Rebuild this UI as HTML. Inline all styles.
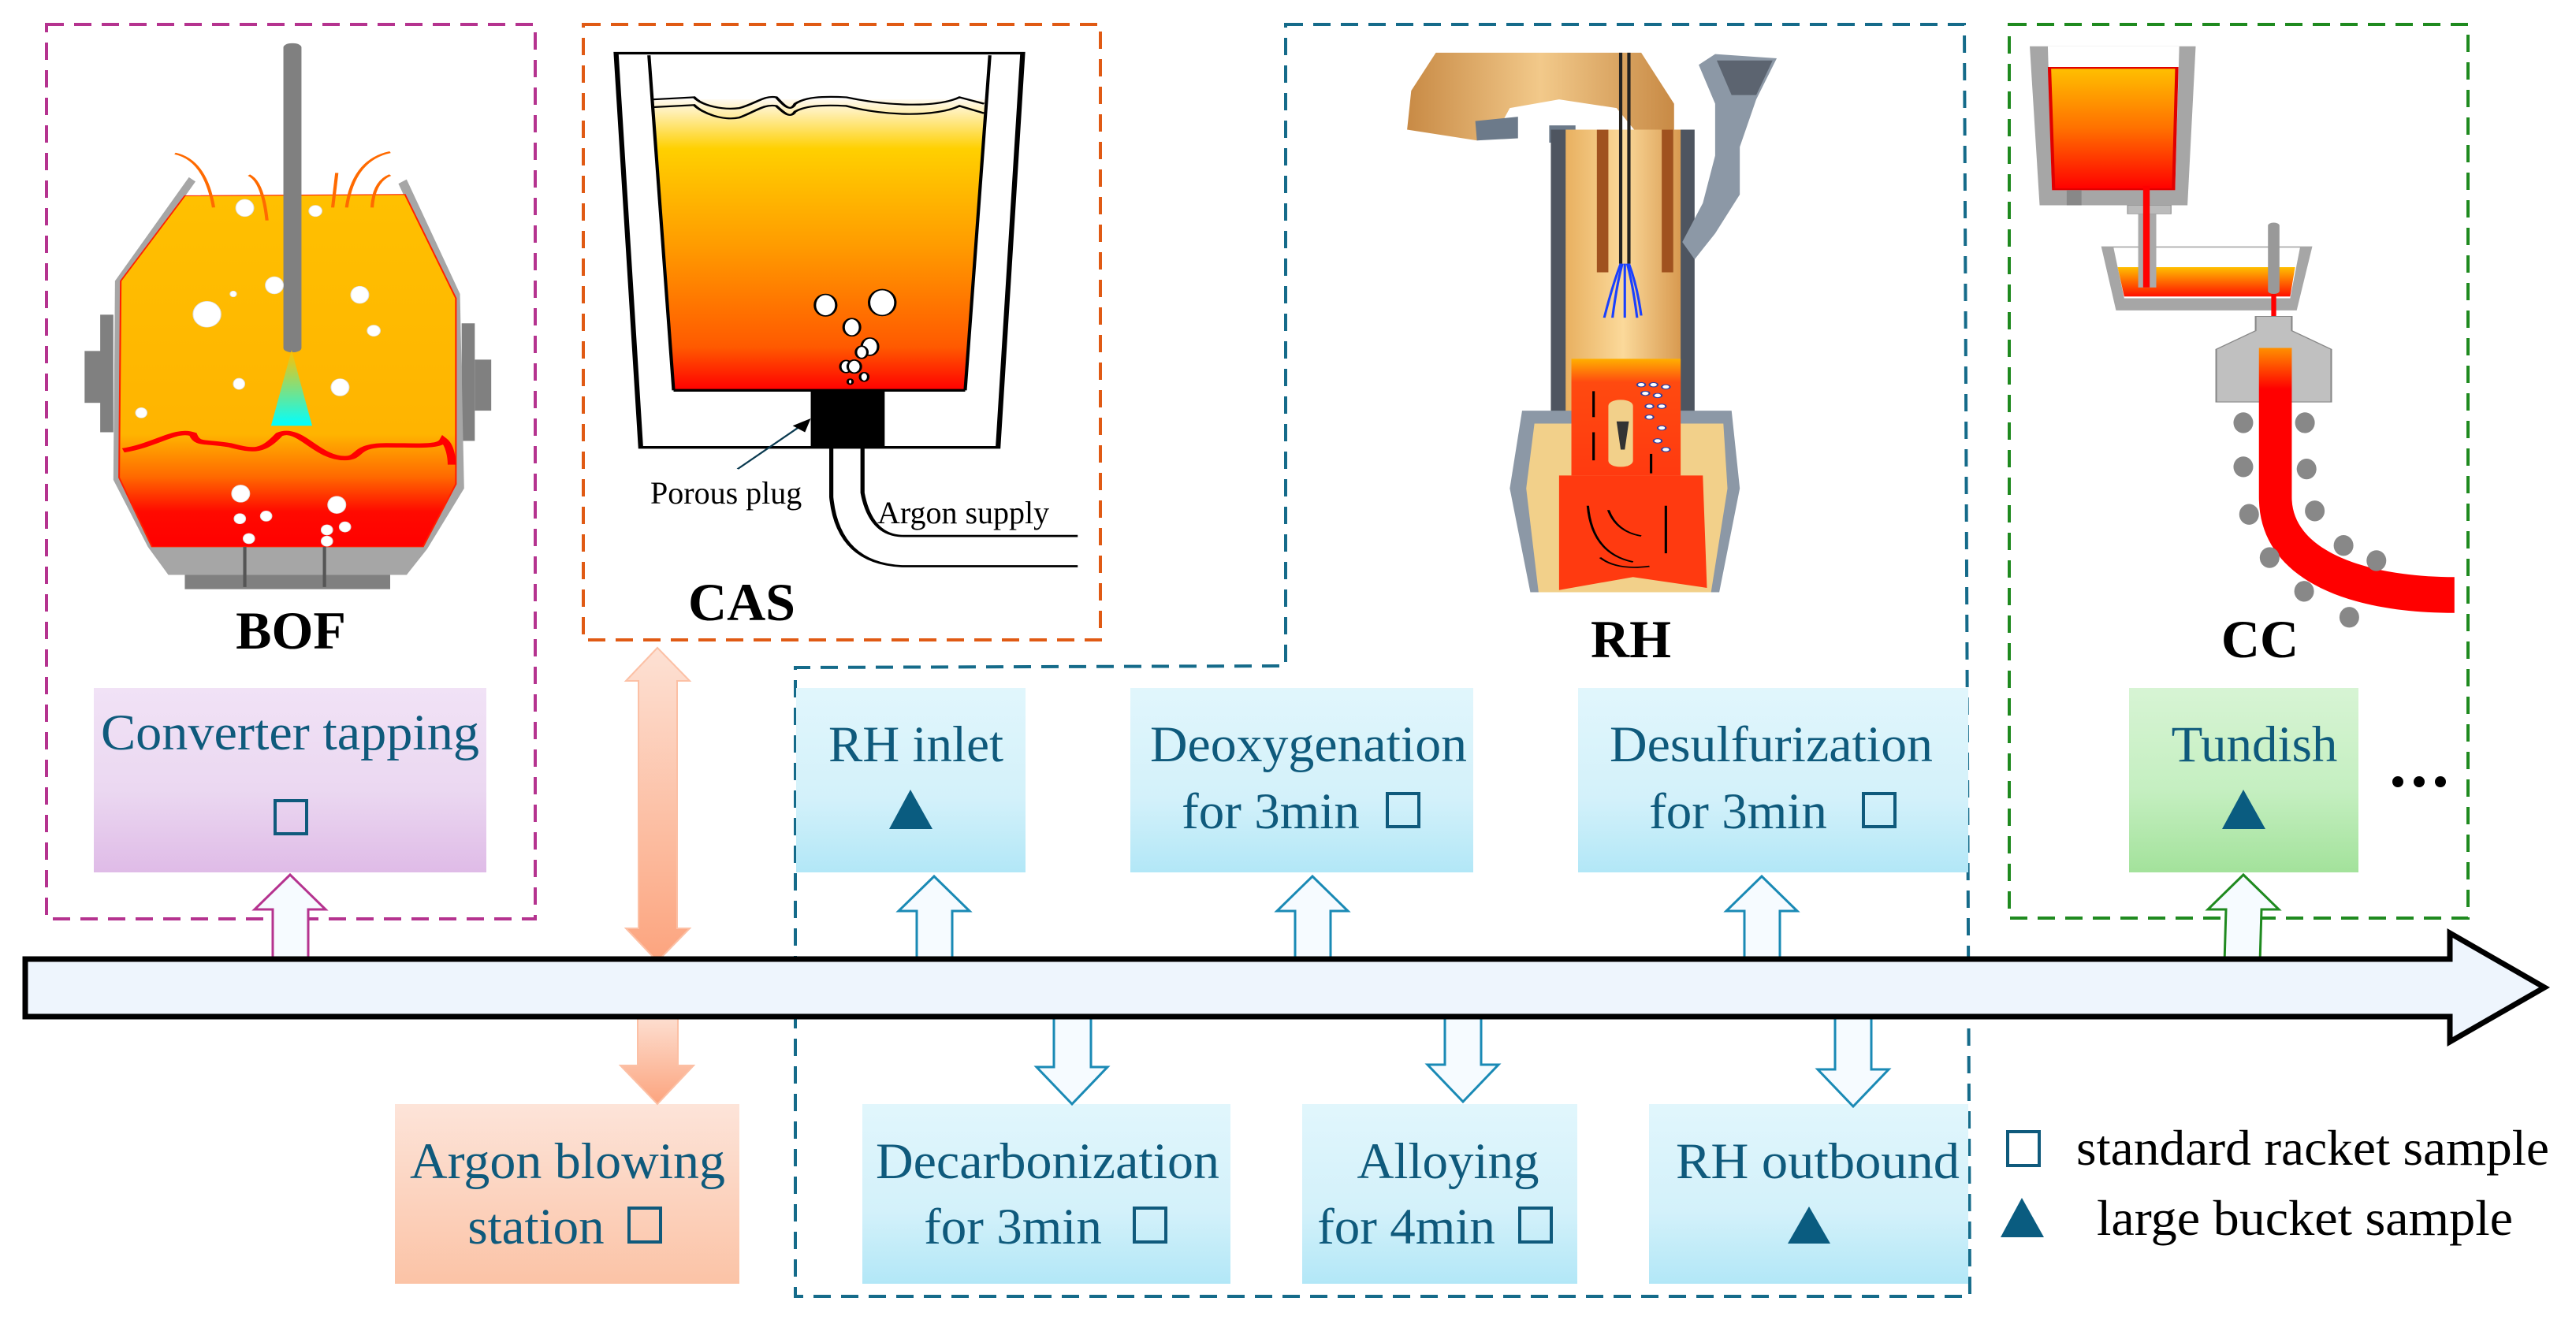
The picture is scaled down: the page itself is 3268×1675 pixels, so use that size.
<!DOCTYPE html>
<html><head><meta charset="utf-8"><style>
html,body{margin:0;padding:0;background:#fff;}
svg{display:block;}
text{font-family:"Liberation Serif",serif;}
</style></head><body>
<svg width="3268" height="1675" viewBox="0 0 3268 1675" xmlns="http://www.w3.org/2000/svg">
<defs>
<linearGradient id="gPur" x1="0" y1="0" x2="0" y2="1"><stop offset="0" stop-color="#f1e2f6"/><stop offset="0.55" stop-color="#ebd8f1"/><stop offset="1" stop-color="#dfbbe7"/></linearGradient>
<linearGradient id="gBlu" x1="0" y1="0" x2="0" y2="1"><stop offset="0" stop-color="#e1f6fc"/><stop offset="0.6" stop-color="#d3f1fa"/><stop offset="1" stop-color="#b2e7f7"/></linearGradient>
<linearGradient id="gGrn" x1="0" y1="0" x2="0" y2="1"><stop offset="0" stop-color="#d7f4d4"/><stop offset="0.55" stop-color="#c5efc1"/><stop offset="1" stop-color="#a3e29b"/></linearGradient>
<linearGradient id="gPch" x1="0" y1="0" x2="0" y2="1"><stop offset="0" stop-color="#fde4d9"/><stop offset="1" stop-color="#fbc3a6"/></linearGradient>
<linearGradient id="gArr" x1="0" y1="0" x2="0" y2="1"><stop offset="0" stop-color="#fde1d4"/><stop offset="1" stop-color="#fca47e"/></linearGradient>
<linearGradient id="gBOF" gradientUnits="userSpaceOnUse" x1="0" y1="450" x2="0" y2="1265"><stop offset="0" stop-color="#ffc000"/><stop offset="0.68" stop-color="#ffb400"/><stop offset="0.8" stop-color="#ff6a00"/><stop offset="0.9" stop-color="#ff0a00"/><stop offset="1" stop-color="#ff0000"/></linearGradient>
<linearGradient id="gJet" x1="0" y1="0" x2="0" y2="1"><stop offset="0" stop-color="#ffc000"/><stop offset="1" stop-color="#00ffff"/></linearGradient>
<linearGradient id="gCAS" gradientUnits="userSpaceOnUse" x1="0" y1="230" x2="0" y2="903"><stop offset="0" stop-color="#fffaf0"/><stop offset="0.17" stop-color="#ffd000"/><stop offset="0.5" stop-color="#ff9c00"/><stop offset="0.85" stop-color="#ff5a00"/><stop offset="1" stop-color="#ff0000"/></linearGradient>
<linearGradient id="gLad" gradientUnits="userSpaceOnUse" x1="0" y1="157" x2="0" y2="438"><stop offset="0" stop-color="#ffc000"/><stop offset="0.5" stop-color="#ff7000"/><stop offset="1" stop-color="#ff0000"/></linearGradient>
<linearGradient id="gTun" gradientUnits="userSpaceOnUse" x1="0" y1="618" x2="0" y2="686"><stop offset="0" stop-color="#ffc000"/><stop offset="1" stop-color="#ff1000"/></linearGradient>
<linearGradient id="gStr" gradientUnits="userSpaceOnUse" x1="0" y1="805" x2="0" y2="900"><stop offset="0" stop-color="#ff9000"/><stop offset="1" stop-color="#ff0000"/></linearGradient>
<linearGradient id="gTan" x1="0" y1="0" x2="1" y2="0"><stop offset="0" stop-color="#c88a45"/><stop offset="0.5" stop-color="#f2c98a"/><stop offset="1" stop-color="#c88a45"/></linearGradient>
<linearGradient id="gCol" x1="0" y1="0" x2="1" y2="0"><stop offset="0" stop-color="#e8b060"/><stop offset="0.5" stop-color="#fbd99a"/><stop offset="1" stop-color="#d89a50"/></linearGradient>
<linearGradient id="gRHred" x1="0" y1="0" x2="0" y2="1"><stop offset="0" stop-color="#ffb000"/><stop offset="0.2" stop-color="#ff4a10"/><stop offset="1" stop-color="#ff3a10"/></linearGradient>
</defs>

<rect x="59" y="31" width="620" height="1135" fill="none" stroke="#b5338f" stroke-width="4" stroke-dasharray="22,13"/>
<rect x="740" y="31" width="656" height="781" fill="none" stroke="#e05a14" stroke-width="4" stroke-dasharray="22,13"/>
<path d="M1631,31 L2492,31 L2499,1645 L1009,1645 L1009,847 L1631,845 Z" fill="none" stroke="#156b8a" stroke-width="4" stroke-dasharray="22,13"/>
<rect x="2549" y="31" width="582" height="1134" fill="none" stroke="#1f8a1f" stroke-width="4" stroke-dasharray="22,13"/>

<g transform="scale(1.0421,0.5485)">
<rect x="122" y="728" width="16" height="272" fill="#808080"/>
<rect x="103" y="812" width="20" height="120" fill="#808080"/>
<rect x="562" y="748" width="16" height="272" fill="#808080"/>
<rect x="578" y="832" width="20" height="118" fill="#808080"/>
<polygon points="230,410 140,650 138,1110 180,1265 205,1330 495,1330 520,1270 565,1130 560,680 495,415 485,425 550,690 550,1120 512,1262 188,1262 150,1105 150,655 238,420" fill="#a6a6a6"/>
<polygon points="180,1262 520,1262 495,1330 205,1330" fill="#a6a6a6"/>
<rect x="225" y="1330" width="250" height="33" fill="#808080"/>
<polygon points="225,453 493,450 555,690 555,1120 515,1265 185,1265 145,1105 147,650" fill="url(#gBOF)" stroke="#ff2000" stroke-width="2"/>
<line x1="298" y1="1265" x2="298" y2="1358" stroke="#555" stroke-width="4"/>
<line x1="395" y1="1265" x2="395" y2="1358" stroke="#555" stroke-width="4"/>
<path d="M150,1042 C190,1030 215,990 235,1005 C240,1030 250,1020 280,1030 C310,1045 320,1045 340,1005 C365,985 385,1060 420,1060 C440,1060 430,1030 470,1030 C510,1030 535,1035 540,1018 C548,1030 550,1060 550,1075" fill="none" stroke="#ff0000" stroke-width="10"/>
<rect x="345" y="100" width="22" height="715" rx="10" fill="#808080"/>
<polygon points="355,810 330,985 380,985" fill="url(#gJet)"/>
<g fill="#fff" stroke="#ddd" stroke-width="1">
<ellipse cx="298" cy="481" rx="11" ry="20"/><ellipse cx="384" cy="488" rx="8" ry="13"/>
<ellipse cx="334" cy="660" rx="11" ry="20"/><ellipse cx="284" cy="680" rx="4" ry="7"/>
<ellipse cx="252" cy="727" rx="17" ry="30"/><ellipse cx="438" cy="682" rx="11" ry="20"/>
<ellipse cx="455" cy="765" rx="8" ry="13"/><ellipse cx="291" cy="888" rx="7" ry="13"/>
<ellipse cx="414" cy="896" rx="11" ry="20"/><ellipse cx="172" cy="955" rx="7" ry="12"/>
<ellipse cx="293" cy="1142" rx="11" ry="20"/><ellipse cx="410" cy="1168" rx="11" ry="20"/>
<ellipse cx="292" cy="1200" rx="7" ry="12"/><ellipse cx="324" cy="1194" rx="7" ry="12"/>
<ellipse cx="420" cy="1219" rx="7" ry="12"/><ellipse cx="398" cy="1226" rx="7" ry="12"/>
<ellipse cx="303" cy="1246" rx="7" ry="12"/><ellipse cx="398" cy="1252" rx="7" ry="12"/>
</g>
<g fill="none" stroke="#ff6a00" stroke-width="4">
<path d="M213,355 Q250,370 260,480"/><path d="M303,405 Q320,420 325,510"/>
<path d="M410,400 L405,480"/><path d="M475,352 Q430,370 422,480"/><path d="M475,405 Q455,420 453,480"/>
</g>
</g>

<g transform="scale(1.0421,0.5485)">
<polygon points="750,123 1245,123 1215,1035 780,1035" fill="#fff" stroke="#000" stroke-width="6"/>
<polygon points="792,230 1200,230 1175,903 820,903" fill="url(#gCAS)"/>
<line x1="790" y1="128" x2="820" y2="903" stroke="#000" stroke-width="4"/>
<line x1="1205" y1="128" x2="1175" y2="903" stroke="#000" stroke-width="4"/>
<line x1="820" y1="903" x2="1175" y2="903" stroke="#000" stroke-width="6"/>
<path d="M795,230 L845,225 C855,245 880,255 900,250 C920,240 930,220 945,225 C955,245 962,260 968,240 C980,225 1000,222 1030,225 C1080,245 1140,250 1168,225 L1198,240" fill="none" stroke="#000" stroke-width="4"/>
<path d="M795,248 L845,243 C855,262 880,280 900,272 C920,258 930,240 945,245 C955,262 962,275 968,258 C980,245 1000,242 1030,245 C1080,270 1140,270 1168,245 L1198,262" fill="none" stroke="#000" stroke-width="4"/>
<rect x="987" y="903" width="90" height="130" fill="#000"/>
<path d="M1012,1035 L1012,1150 Q1020,1305 1100,1310 L1312,1310" fill="none" stroke="#000" stroke-width="5"/>
<path d="M1050,1035 L1050,1140 Q1060,1240 1100,1240 L1312,1240" fill="none" stroke="#000" stroke-width="5"/>
<line x1="898" y1="1085" x2="975" y2="985" stroke="#0a3a50" stroke-width="3"/>
<polygon points="987,968 980,1000 965,985" fill="#000"/>
<g fill="#fff" stroke="#000" stroke-width="3">
<ellipse cx="1005" cy="706" rx="13" ry="25"/><ellipse cx="1074" cy="700" rx="16" ry="30"/>
<ellipse cx="1037" cy="757" rx="10" ry="20"/><ellipse cx="1059" cy="802" rx="10" ry="20"/>
<ellipse cx="1049" cy="815" rx="7" ry="14"/><ellipse cx="1030" cy="848" rx="7" ry="14"/>
<ellipse cx="1040" cy="848" rx="8" ry="15"/><ellipse cx="1052" cy="872" rx="5" ry="10"/>
<ellipse cx="1035" cy="883" rx="3" ry="6"/>
</g>
</g>

<g transform="translate(1634,0) scale(1.0421,0.5485)">
<polygon points="180,122 430,122 470,240 470,330 430,320 400,250 330,230 270,250 250,320 230,325 145,300 150,210" fill="url(#gTan)"/>
<polygon points="228,280 280,270 280,320 230,325" fill="#6c7a8a"/>
<polygon points="318,290 350,290 350,330 318,330" fill="#6c7a8a"/>
<polygon points="320,300 495,300 495,1120 320,1120" fill="#4e5560"/>
<polygon points="338,300 478,300 478,1100 338,1100" fill="url(#gCol)"/>
<rect x="376" y="300" width="14" height="330" fill="#a0521f"/>
<rect x="455" y="300" width="14" height="330" fill="#a0521f"/>
<line x1="405" y1="122" x2="405" y2="610" stroke="#222" stroke-width="4"/>
<line x1="415" y1="122" x2="415" y2="610" stroke="#222" stroke-width="4"/>
<g stroke="#1a40ff" stroke-width="3" fill="none">
<path d="M405,610 Q395,660 385,735"/><path d="M407,610 Q400,660 395,735"/><path d="M410,610 L410,735"/>
<path d="M413,610 Q420,660 425,735"/><path d="M415,610 Q425,660 430,730"/>
</g>
<polygon points="500,150 520,125 595,135 570,230 550,340 550,450 520,540 495,600 480,560 505,470 520,360 520,240" fill="#8c98a6"/>
<polygon points="522,140 590,140 570,220 540,220" fill="#5c6470"/>
<polygon points="285,950 540,950 550,1130 525,1370 295,1370 270,1130" fill="#8c98a6"/>
<polygon points="300,980 530,980 535,1130 515,1370 305,1370 290,1130" fill="#f2d08a"/>
<polygon points="345,830 478,830 478,1100 345,1100" fill="url(#gRHred)"/>
<polygon points="330,1100 505,1100 510,1360 420,1335 330,1365" fill="#ff3a10"/>
<rect x="390" y="925" width="30" height="155" rx="14" fill="#f2d08a"/>
<polygon points="400,975 415,975 410,1040 405,1040" fill="#333"/>
<g fill="#fff" stroke="#3040a0" stroke-width="2">
<circle cx="430" cy="890" r="5"/><circle cx="445" cy="890" r="5"/><circle cx="460" cy="895" r="5"/>
<circle cx="435" cy="910" r="5"/><circle cx="450" cy="915" r="5"/><circle cx="440" cy="940" r="5"/>
<circle cx="455" cy="940" r="5"/><circle cx="440" cy="965" r="5"/><circle cx="455" cy="990" r="5"/>
<circle cx="450" cy="1020" r="5"/><circle cx="460" cy="1040" r="5"/>
</g>
<g stroke="#000" stroke-width="3" fill="none">
<path d="M372,905 L372,965"/><path d="M372,1000 L372,1065"/><path d="M442,1095 L442,1050"/>
<path d="M365,1170 Q370,1280 420,1300"/><path d="M390,1180 Q400,1230 430,1240"/>
<path d="M460,1280 L460,1170"/><path d="M380,1290 Q400,1320 440,1310"/>
</g>
</g>

<g transform="translate(1634,0) scale(1.0421,0.5485)">
<polygon points="903,107 1105,107 1095,475 915,475" fill="#a6a6a6"/>
<polygon points="925,107 1085,107 1080,440 930,440" fill="#fff"/>
<polygon points="927,157 1082,157 1078,438 932,438" fill="url(#gLad)" stroke="#e00000" stroke-width="4"/>
<rect x="948" y="440" width="18" height="35" fill="#888"/>
<rect x="1022" y="475" width="53" height="20" fill="#bbb" stroke="#888"/>
<polygon points="990,570 1247,570 1228,718 1008,718" fill="#a6a6a6"/>
<polygon points="1005,573 1232,573 1220,690 1018,690" fill="#fff"/>
<polygon points="1010,618 1226,618 1220,686 1018,686" fill="url(#gTun)"/>
<rect x="1035" y="495" width="22" height="170" fill="#aaa"/>
<rect x="1041" y="430" width="8" height="235" fill="#ff0000"/>
<rect x="1193" y="515" width="14" height="165" rx="7" fill="#999"/>
<rect x="1197" y="680" width="6" height="130" fill="#ff0000"/>
<polygon points="1178,732 1222,732 1222,765 1270,808 1270,930 1130,930 1130,808 1178,765" fill="#c0c0c0" stroke="#888" stroke-width="2"/>
<path d="M1182,805 L1182,1150 C1182,1330 1280,1418 1420,1418 L1420,1335 C1320,1335 1222,1280 1222,1150 L1222,805 Z" fill="url(#gStr)"/>
<g fill="#888">
<ellipse cx="1163" cy="978" rx="12" ry="24"/><ellipse cx="1238" cy="978" rx="12" ry="24"/>
<ellipse cx="1163" cy="1080" rx="12" ry="24"/><ellipse cx="1240" cy="1085" rx="12" ry="24"/>
<ellipse cx="1170" cy="1190" rx="12" ry="24"/><ellipse cx="1250" cy="1182" rx="12" ry="24"/>
<ellipse cx="1195" cy="1290" rx="12" ry="24"/><ellipse cx="1285" cy="1262" rx="12" ry="24"/>
<ellipse cx="1325" cy="1297" rx="12" ry="24"/><ellipse cx="1237" cy="1368" rx="12" ry="24"/>
<ellipse cx="1292" cy="1428" rx="12" ry="24"/>
</g>
</g>

<text x="825" y="639" font-size="40" fill="#000">Porous plug</text>
<text x="1113" y="664" font-size="40" fill="#000">Argon supply</text>
<g font-weight="bold" font-size="68" fill="#000" text-anchor="middle">
<text x="369" y="823">BOF</text>
<text x="941" y="787">CAS</text>
<text x="2069" y="834">RH</text>
<text x="2867" y="834">CC</text>
</g>

<rect x="119" y="873" width="498" height="234" fill="url(#gPur)"/>
<rect x="1010" y="873" width="291" height="234" fill="url(#gBlu)"/>
<rect x="1434" y="873" width="435" height="234" fill="url(#gBlu)"/>
<rect x="2002" y="873" width="495" height="234" fill="url(#gBlu)"/>
<rect x="2701" y="873" width="291" height="234" fill="url(#gGrn)"/>
<rect x="501" y="1401" width="437" height="228" fill="url(#gPch)"/>
<rect x="1094" y="1401" width="467" height="228" fill="url(#gBlu)"/>
<rect x="1652" y="1401" width="349" height="228" fill="url(#gBlu)"/>
<rect x="2092" y="1401" width="405" height="228" fill="url(#gBlu)"/>

<g font-size="65" fill="#0f5a7c" text-anchor="middle">
<text x="368" y="951" textLength="480" lengthAdjust="spacingAndGlyphs">Converter tapping</text>
<text x="1162" y="966">RH inlet</text>
<text x="1660" y="966" textLength="402" lengthAdjust="spacingAndGlyphs">Deoxygenation</text>
<text x="1612" y="1051">for 3min</text>
<text x="2247" y="966" textLength="410" lengthAdjust="spacingAndGlyphs">Desulfurization</text>
<text x="2205" y="1051">for 3min</text>
<text x="2860" y="966">Tundish</text>
<text x="720" y="1495" textLength="400" lengthAdjust="spacingAndGlyphs">Argon blowing</text>
<text x="680" y="1578">station</text>
<text x="1329" y="1495" textLength="436" lengthAdjust="spacingAndGlyphs">Decarbonization</text>
<text x="1285" y="1578">for 3min</text>
<text x="1837" y="1495">Alloying</text>
<text x="1784" y="1578">for 4min</text>
<text x="2306" y="1495" textLength="360" lengthAdjust="spacingAndGlyphs">RH outbound</text>
</g>
<g fill="none" stroke="#0f5a7c" stroke-width="4">
<rect x="349" y="1016" width="40" height="42"/>
<rect x="1760" y="1007" width="40" height="42"/>
<rect x="2364" y="1007" width="40" height="42"/>
<rect x="798" y="1533" width="40" height="43"/>
<rect x="1439" y="1533" width="40" height="43"/>
<rect x="1928" y="1533" width="40" height="43"/>
<rect x="2547" y="1436" width="40" height="43"/>
</g>
<g fill="#0a5c80">
<polygon points="1155,1002 1128,1052 1183,1052"/>
<polygon points="2846,1002 2819,1052 2874,1052"/>
<polygon points="2295,1531 2268,1578 2322,1578"/>
<polygon points="2565,1520 2538,1570 2593,1570"/>
</g>
<text x="2634" y="1478" font-size="64" fill="#000" textLength="600" lengthAdjust="spacingAndGlyphs">standard racket sample</text>
<text x="2660" y="1567" font-size="64" fill="#000" textLength="528" lengthAdjust="spacingAndGlyphs">large bucket sample</text>
<g fill="#000"><circle cx="3042" cy="992" r="7"/><circle cx="3069" cy="992" r="7"/><circle cx="3096" cy="992" r="7"/></g>

<g fill="#f6fbff" stroke-width="3">
<polygon stroke="#b5338f" points="368,1110 413,1154 391,1154 391,1222 346,1222 346,1154 323,1154"/>
<polygon stroke="#1a8ab5" points="1185,1112 1230,1156 1208,1156 1208,1222 1163,1222 1163,1156 1140,1156"/>
<polygon stroke="#1a8ab5" points="1665,1112 1710,1156 1688,1156 1688,1222 1643,1222 1643,1156 1620,1156"/>
<polygon stroke="#1a8ab5" points="2235,1112 2280,1156 2258,1156 2258,1222 2213,1222 2213,1156 2190,1156"/>
<polygon stroke="#1f8a1f" points="2846,1110 2891,1154 2869,1154 2867,1222 2822,1222 2824,1154 2801,1154"/>
<polygon stroke="#1a8ab5" points="1360,1401 1405,1354 1384,1354 1384,1286 1337,1286 1337,1354 1315,1354"/>
<polygon stroke="#1a8ab5" points="1856,1398 1901,1351 1879,1351 1879,1286 1833,1286 1833,1351 1811,1351"/>
<polygon stroke="#1a8ab5" points="2351,1404 2396,1357 2374,1357 2374,1286 2328,1286 2328,1357 2306,1357"/>
</g>
<polygon points="834,822 875,864 859,864 859,1178 875,1178 834,1220 794,1178 810,1178 810,864 794,864" fill="url(#gArr)" stroke="#fcc0a5" stroke-width="2"/>
<polygon points="834,1401 880,1352 860,1352 860,1286 809,1286 809,1352 787,1352" fill="url(#gArr)" stroke="#fcc0a5" stroke-width="2"/>

<polygon points="32,1217 3108,1217 3108,1184 3228,1253 3108,1322 3108,1290 32,1290" fill="#eef5fd" stroke="#000" stroke-width="7" stroke-linejoin="miter"/>
</svg>
</body></html>
